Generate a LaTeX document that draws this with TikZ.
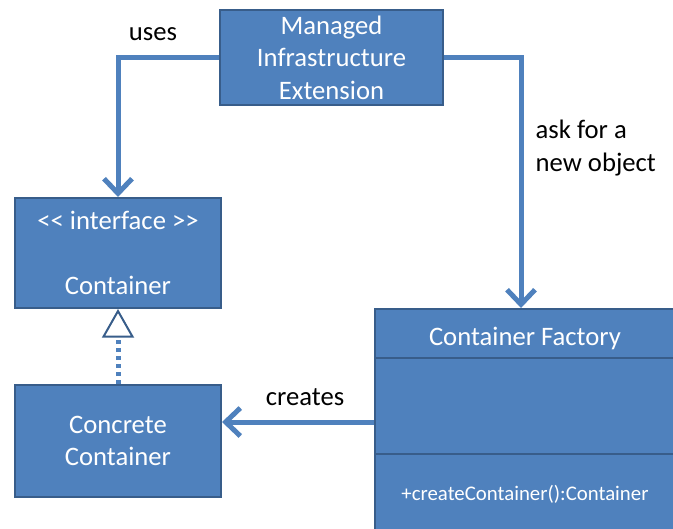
\documentclass[tikz,border=0pt]{standalone}
\usepackage{fontspec}
\setmainfont{Carlito}
\usetikzlibrary{arrows.meta}
\definecolor{boxfill}{HTML}{4F81BD}
\definecolor{boxline}{HTML}{385D8A}
\begin{document}
\begin{tikzpicture}[x=0.75pt,y=-0.75pt,
  umlbox/.style={draw=boxline, line width=1.5pt, fill=boxfill, text=white, align=center,
    inner sep=0pt, font=\fontsize{20}{24.4}\selectfont},
  conn/.style={draw=boxfill, line width=3.75pt, -{Straight Barb[length=11pt,width=21pt]}},
  real/.style={draw=boxfill, line width=3.75pt, dash pattern=on 3pt off 3pt,
    -{Triangle[fill=white, color=boxline, line width=1.5pt, length=21.5pt, width=24pt]}},
  lbl/.style={font=\fontsize{20}{24.4}\selectfont}]
\useasboundingbox (0,0) rectangle (673,528);
% classes
\node[umlbox, minimum width=167.25pt, minimum height=71.25pt] (mie) at (331.5,57.5) {Managed\\Infrastructure\\Extension};
\node[umlbox, minimum width=154.5pt, minimum height=82.5pt] (iface) at (118,253) {<{}< interface >{}>\\ \\Container};
\node[umlbox, minimum width=154.5pt, minimum height=84pt] (concrete) at (118,441) {Concrete\\Container};
% factory with its three compartments
\node[umlbox, minimum width=225pt, minimum height=169.5pt] (factory) at (525,422) {};
\draw[boxline, line width=1.5pt] ([yshift=-37.5pt]factory.north west) -- ([yshift=-37.5pt]factory.north east);
\draw[boxline, line width=1.5pt] ([yshift=-109.5pt]factory.north west) -- ([yshift=-109.5pt]factory.north east);
\node[text=white, font=\fontsize{20}{24.4}\selectfont] (fctitle) at ([yshift=-22.5pt]factory.north) {Container Factory};
\node[text=white, font=\fontsize{15.6}{19}\selectfont] (fcop) at ([yshift=-139.5pt]factory.north) {+createContainer():Container};
% connectors
\draw[conn] (mie.west) -| (iface.north);
\draw[conn] (mie.east) -| ([xshift=-3pt]factory.north);
\draw[conn] (factory.west) -- (factory.west -| concrete.east);
\draw[real] (concrete.north) -- (iface.south);
% labels
\node[lbl] (uses) at (153,34) {uses};
\node[lbl] (creates) at (305,397) {creates};
\node[lbl, align=left, anchor=west] (ask) at (531,148) {ask for a\\new object};
\end{tikzpicture}
\end{document}
